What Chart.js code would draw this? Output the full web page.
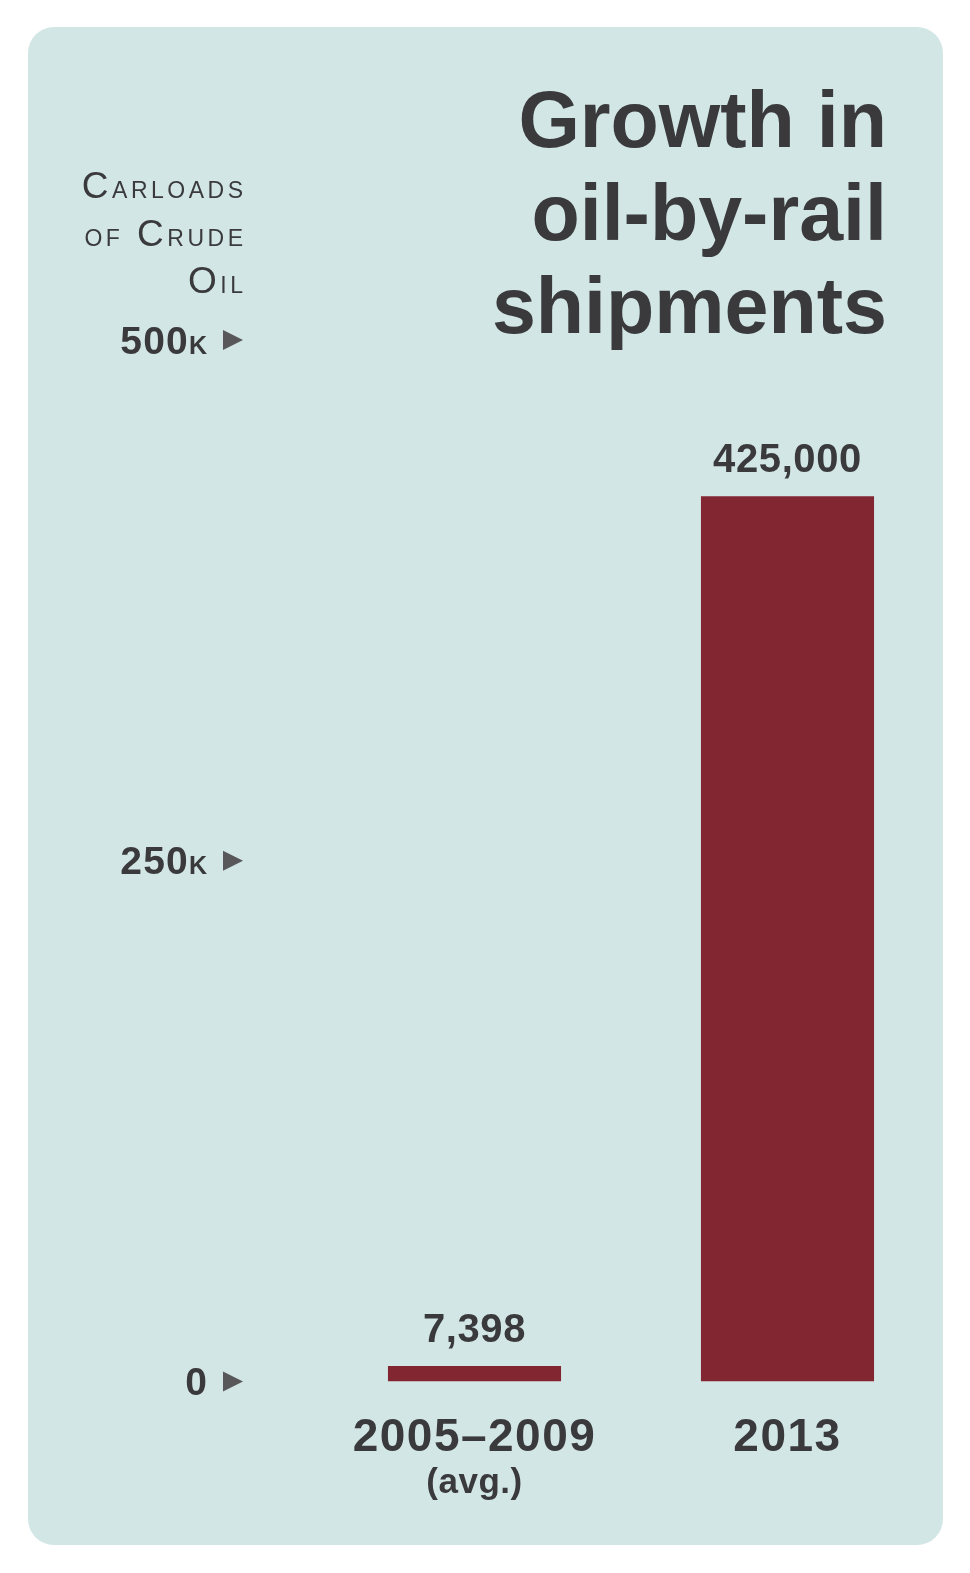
<!DOCTYPE html>
<html lang="en">
<head>
    <meta charset="UTF-8">
    <title>Growth in oil-by-rail shipments</title>
    <script src="https://cdn.jsdelivr.net/npm/chart.js"></script>
    <style>
        body {
            margin: 0;
            background-color: #ffffff;
        }
        #wrap {
            width: 970px;
            height: 1573px;
        }
    </style>
</head>
<body>
    <div id="wrap"><canvas id="chart" width="970" height="1573"></canvas></div>

    <script>
        // chart data
        const categories = ['2005–2009', '2013'];
        const subLabels = ['(avg.)', ''];
        const carloads = [7398, 425000];
        const valueLabels = ['7,398', '425,000'];
        const yTicks = [0, 250000, 500000];
        const yTickLabels = ['0', '250k', '500k'];
        const yTitle = ['Carloads', 'of Crude', 'Oil'];
        const titleLines = ['Growth in', 'oil-by-rail', 'shipments'];

        const TEXT = '#3a3a3c';
        const FONT = '"Liberation Sans", Arial, Helvetica, sans-serif';

        // draws text right-aligned, lowercase letters as small capitals
        function smallCaps(ctx, text, xRight, y, big, small, weight, spacing) {
            const chars = [];
            let total = 0;
            for (const ch of text) {
                const low = ch.toLowerCase() === ch && ch.toUpperCase() !== ch;
                const size = low ? small : big;
                ctx.font = weight + ' ' + size + 'px ' + FONT;
                const c = low ? ch.toUpperCase() : ch;
                const w = ctx.measureText(c).width;
                chars.push({ c: c, size: size, w: w });
                total += w + spacing;
            }
            total -= spacing;
            let x = xRight - total;
            ctx.textAlign = 'left';
            ctx.textBaseline = 'alphabetic';
            chars.forEach(function (o) {
                ctx.font = weight + ' ' + o.size + 'px ' + FONT;
                ctx.fillText(o.c, x, y);
                x += o.w + spacing;
            });
        }

        const cardPlugin = {
            id: 'card',
            beforeDraw(chart) {
                const ctx = chart.ctx;
                ctx.save();
                ctx.fillStyle = '#d3e6e6';
                ctx.beginPath();
                ctx.roundRect(28, 27, 915, 1518, 26);
                ctx.fill();
                ctx.restore();
            }
        };

        const textPlugin = {
            id: 'texts',
            afterDatasetsDraw(chart) {
                const ctx = chart.ctx;
                const area = chart.chartArea;
                const x = chart.scales.x;
                const y = chart.scales.y;
                ctx.save();
                ctx.fillStyle = TEXT;

                // title
                ctx.font = 'bold 79px ' + FONT;
                ctx.textAlign = 'right';
                ctx.textBaseline = 'alphabetic';
                titleLines.forEach(function (t, i) {
                    ctx.fillText(t, 887, 147 + i * 93);
                });

                // y axis title
                yTitle.forEach(function (t, i) {
                    smallCaps(ctx, t, 243, 198 + i * 47.5, 37, 23, 'normal', 3.5);
                });

                // y ticks with arrows
                yTicks.forEach(function (v, i) {
                    const py = y.getPixelForValue(v);
                    ctx.fillStyle = TEXT;
                    smallCaps(ctx, yTickLabels[i], 207, py + 13.5, 39, 25, 'bold', 1.2);
                    ctx.fillStyle = '#58585a';
                    ctx.beginPath();
                    ctx.moveTo(223, py - 10);
                    ctx.lineTo(243, py);
                    ctx.lineTo(223, py + 10);
                    ctx.closePath();
                    ctx.fill();
                });

                // value labels above bars
                ctx.fillStyle = TEXT;
                ctx.textAlign = 'center';
                ctx.font = 'bold 40px ' + FONT;
                ctx.letterSpacing = '0.6px';
                chart.getDatasetMeta(0).data.forEach(function (bar, i) {
                    ctx.fillText(valueLabels[i], bar.x, bar.y - 24);
                });

                // category labels
                categories.forEach(function (c, i) {
                    const px = x.getPixelForValue(i);
                    ctx.font = 'bold 46px ' + FONT;
                    ctx.letterSpacing = '1.5px';
                    ctx.fillText(c, px, area.bottom + 69.5);
                    if (subLabels[i]) {
                        ctx.font = 'bold 35px ' + FONT;
                        ctx.letterSpacing = '0.5px';
                        ctx.fillText(subLabels[i], px, area.bottom + 111.5);
                    }
                });
                ctx.restore();
            }
        };

        new Chart(document.getElementById('chart'), {
            type: 'bar',
            data: {
                labels: categories,
                datasets: [{
                    data: carloads,
                    backgroundColor: '#822632',
                    borderWidth: 0,
                    barPercentage: 1,
                    categoryPercentage: 0.553
                }]
            },
            options: {
                responsive: false,
                animation: false,
                layout: {
                    padding: { left: 318, right: 26, top: 340, bottom: 191.5 }
                },
                plugins: {
                    legend: { display: false },
                    tooltip: { enabled: false }
                },
                scales: {
                    x: { display: false },
                    y: { display: false, min: 0, max: 500000 }
                }
            },
            plugins: [cardPlugin, textPlugin]
        });
    </script>
</body>
</html>
